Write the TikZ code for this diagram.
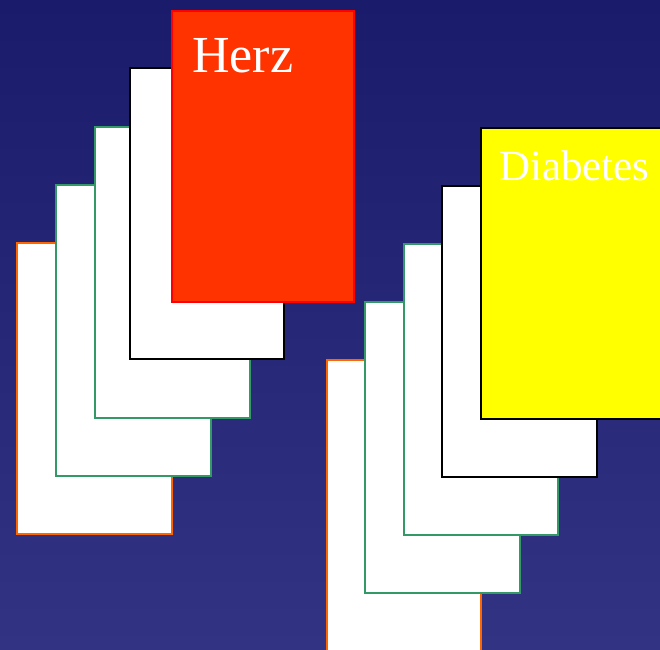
\documentclass[tikz,border=0pt]{standalone}
\usepackage{fontspec}
\setmainfont{Liberation Serif}
\definecolor{bgtop}{RGB}{26,27,106}
\definecolor{bgbot}{RGB}{50,51,130}
\definecolor{cardorange}{RGB}{255,102,0}
\definecolor{cardgreen}{RGB}{51,153,102}
\definecolor{herzred}{RGB}{255,51,0}
\definecolor{herzborder}{RGB}{255,0,0}
\definecolor{diayellow}{RGB}{255,255,0}
\tikzset{
  card/.style={rectangle, fill=white, line width=1.5pt, inner sep=0pt, anchor=north west,
    minimum width=#1, minimum height=291pt},
  card/.default=155pt,
  cardtext/.style={text=white, inner sep=0pt, anchor=base west}
}
\begin{document}
\begin{tikzpicture}[x=1pt,y=-1pt]
\clip (0,0) rectangle (660,649);
\shade[top color=bgtop, bottom color=bgbot] (0,0) rectangle (660,649);
% left stack
\node[card, draw=cardorange] (l1) at (16,242) {};
\node[card, draw=cardgreen] (l2) at (55,184) {};
\node[card, draw=cardgreen] (l3) at (94,126) {};
\node[card=154pt, draw=black] (l4) at (129,67) {};
\node[card=182pt, draw=herzborder, fill=herzred] (l5) at (171,10) {};
\node[cardtext, font=\fontsize{52}{52}\selectfont] (herz) at (192,72) {Herz};
% right stack
\node[card=154pt, draw=cardorange, minimum height=320pt] (r1) at (326,359) {};
\node[card, draw=cardgreen] (r2) at (364,301) {};
\node[card=154pt, draw=cardgreen] (r3) at (403,243) {};
\node[card, draw=black] (r4) at (441,185) {};
\node[card=200pt, draw=black, fill=diayellow] (r5) at (480,127) {};
\node[cardtext, font=\fontsize{43}{43}\selectfont] (dia) at (499,180) {Diabetes};
\end{tikzpicture}
\end{document}
